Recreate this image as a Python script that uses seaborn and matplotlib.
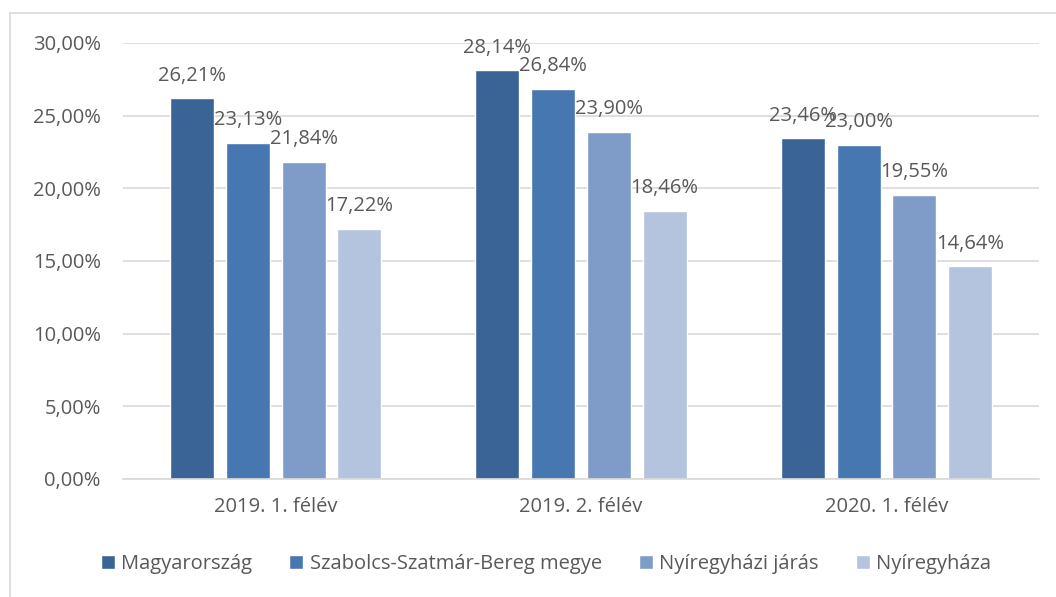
import pandas as pd
import matplotlib.pyplot as plt
import seaborn as sns
from matplotlib.patches import Rectangle

# Data
periods = ['2019. 1. félév', '2019. 2. félév', '2020. 1. félév']
areas = ['Magyarország', 'Szabolcs-Szatmár-Bereg megye', 'Nyíregyházi járás', 'Nyíregyháza']
magyarorszag = [26.21, 28.14, 23.46]
szabolcs = [23.13, 26.84, 23.00]
jaras = [21.84, 23.90, 19.55]
nyiregyhaza = [17.22, 18.46, 14.64]

colors = ['#3B6496', '#4677B0', '#7F9CC8', '#B4C3DE']
TEXT = '#595959'

rows = []
for area, vals in zip(areas, [magyarorszag, szabolcs, jaras, nyiregyhaza]):
    for p, v in zip(periods, vals):
        rows.append({'period': p, 'area': area, 'value': v})
df = pd.DataFrame(rows)

sns.set_theme(style='white')
plt.rcParams['font.family'] = ['Open Sans', 'DejaVu Sans']

fig = plt.figure(figsize=(10.56, 5.97), dpi=100)
ax = fig.add_axes([0.1165, 0.1977, 0.8675, 0.7303])

sns.barplot(data=df, x='period', y='value', hue='area', hue_order=areas,
            order=periods, palette=colors, width=0.73, gap=0.21,
            saturation=1, ax=ax, legend=True)

ax.set_ylim(0, 30)
ax.set_xlim(-0.5, 2.5)
ax.set_yticks([0, 5, 10, 15, 20, 25, 30])
ax.set_yticklabels([f'{t:.2f}%'.replace('.', ',') for t in [0, 5, 10, 15, 20, 25, 30]])
ax.yaxis.grid(True, color='#D9D9D9', linewidth=1.2)
ax.set_axisbelow(True)
for s in ['left', 'right', 'top']:
    ax.spines[s].set_visible(False)
ax.spines['bottom'].set_color('#D9D9D9')
ax.spines['bottom'].set_linewidth(1.2)
ax.tick_params(axis='both', colors=TEXT, labelsize=14.5, length=0)
ax.tick_params(axis='x', pad=13)
ax.tick_params(axis='y', pad=16)
ax.set_xlabel('')
ax.set_ylabel('')

for cont in ax.containers:
    labels = [f'{b.get_height():.2f}%'.replace('.', ',') for b in cont]
    ax.bar_label(cont, labels=labels, padding=9, color=TEXT, fontsize=14.5)

handles, labs = ax.get_legend_handles_labels()
ax.legend(handles, labs, loc='center', bbox_to_anchor=(0.517, 0.055),
          bbox_transform=fig.transFigure, ncol=4, frameon=False,
          handlelength=0.7, handleheight=0.7, handletextpad=0.3,
          columnspacing=1.85, fontsize=14.5, labelcolor=TEXT)

fig.patches.append(Rectangle((10 / 1056, -0.1), 1.2, 0.1 + (597 - 13) / 597,
                             transform=fig.transFigure, fill=False,
                             edgecolor='#D9D9D9', linewidth=1.2))

fig.savefig('out.png', dpi=100)
